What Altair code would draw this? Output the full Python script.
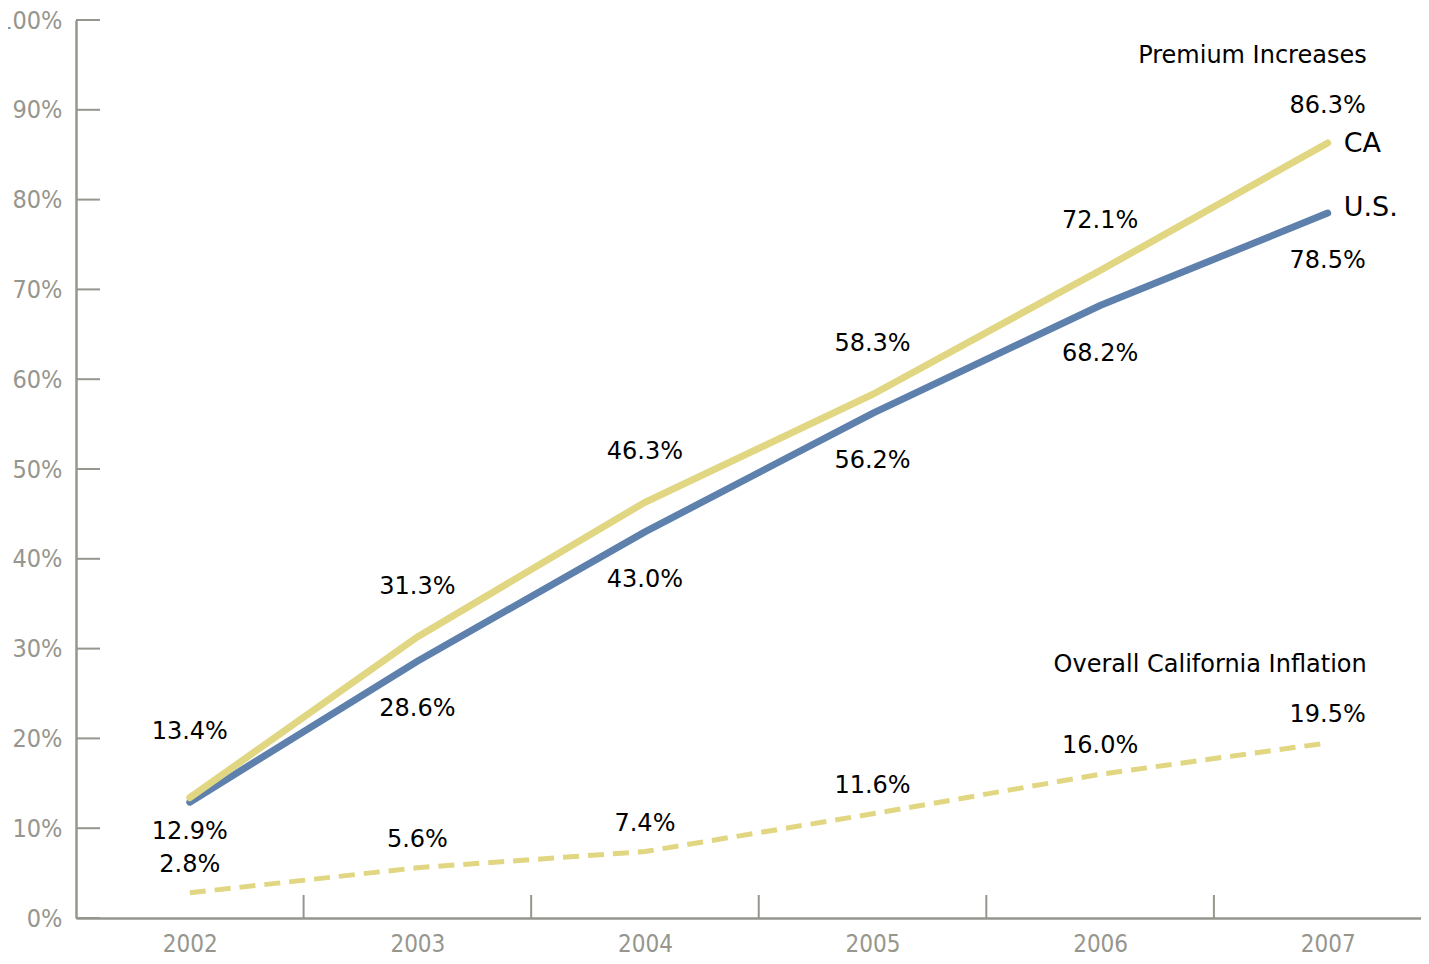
import altair as alt
import pandas as pd

years = [2002, 2003, 2004, 2005, 2006, 2007]
ca = [13.4, 31.3, 46.3, 58.3, 72.1, 86.3]
us = [12.9, 28.6, 43.0, 56.2, 68.2, 78.5]
infl = [2.8, 5.6, 7.4, 11.6, 16.0, 19.5]
y_ticks = [0, 10, 20, 30, 40, 50, 60, 70, 80, 90, 100]
x_bounds = [2002.5, 2003.5, 2004.5, 2005.5, 2006.5]

YELLOW = "#e1d682"
BLUE = "#5d80ad"
GRAY = "#96968e"
LABEL_FONT = "DejaVu Sans"
AXIS_FONT = "DejaVu Sans Condensed"

df = pd.DataFrame({"year": years, "CA": ca, "US": us, "Infl": infl})
df["CA_l"] = df["CA"].map(lambda v: f"{v:.1f}%")
df["US_l"] = df["US"].map(lambda v: f"{v:.1f}%")
df["Infl_l"] = df["Infl"].map(lambda v: f"{v:.1f}%")

W, H = 1345, 898
xs = alt.Scale(domain=[2001.5, 2007.41], nice=False, zero=False)
ys = alt.Scale(domain=[0, 100], nice=False)

X = alt.X("year:Q", scale=xs, axis=alt.Axis(
    values=years, format="d", ticks=False, grid=False, title=None,
    domainColor=GRAY, domainWidth=2.5, labelColor=GRAY, labelFont=AXIS_FONT,
    labelFontSize=24, labelPadding=14))

base = alt.Chart(df)

y_axis = alt.Axis(values=y_ticks, labelExpr="datum.value + '%'", ticks=False,
                  grid=False, title=None, domainColor=GRAY, domainWidth=2.5,
                  labelColor=GRAY, labelFont=AXIS_FONT, labelFontSize=25,
                  labelPadding=14)

ca_line = base.mark_line(color=YELLOW, strokeWidth=7, strokeCap="round").encode(
    x=X, y=alt.Y("CA:Q", scale=ys, axis=y_axis))
us_line = base.mark_line(color=BLUE, strokeWidth=7, strokeCap="round").encode(
    x=alt.X("year:Q", scale=xs), y=alt.Y("US:Q", scale=ys))
inf_line = base.mark_line(color=YELLOW, strokeWidth=5, strokeDash=[16, 9]).encode(
    x=alt.X("year:Q", scale=xs), y=alt.Y("Infl:Q", scale=ys))

tick_df = pd.DataFrame({"v": y_ticks})
ytick = alt.Chart(tick_df).mark_rule(color=GRAY, strokeWidth=2).encode(
    y=alt.Y("v:Q", scale=ys), x=alt.value(0), x2=alt.value(24))
xb_df = pd.DataFrame({"b": x_bounds})
xtick = alt.Chart(xb_df).mark_rule(color=GRAY, strokeWidth=2).encode(
    x=alt.X("b:Q", scale=xs), y=alt.value(H), y2=alt.value(H - 23))

def txt(field, label, dy, cond=None):
    c = base
    if cond is not None:
        c = c.transform_filter(cond)
    return c.mark_text(font=LABEL_FONT, fontSize=24, color="black", dy=dy).encode(
        x=alt.X("year:Q", scale=xs), y=alt.Y(f"{field}:Q", scale=ys), text=f"{label}:N")

ca_t1 = txt("CA", "CA_l", -66, "datum.year == 2002")
ca_t2 = txt("CA", "CA_l", -50, "datum.year > 2002 && datum.year < 2007")
ca_t3 = txt("CA", "CA_l", -37, "datum.year == 2007")
us_t1 = txt("US", "US_l", 30, "datum.year == 2002")
us_t2 = txt("US", "US_l", 48, "datum.year > 2002")
inf_t = txt("Infl", "Infl_l", -28)

last = "datum.year == 2007"
ca_name = base.transform_filter(last).mark_text(
    font=LABEL_FONT, fontSize=27, color="black", align="left", dx=16, dy=1).encode(
    x=alt.X("year:Q", scale=xs), y=alt.Y("CA:Q", scale=ys), text=alt.value("CA"))
us_name = base.transform_filter(last).mark_text(
    font=LABEL_FONT, fontSize=27, color="black", align="left", dx=16, dy=-5).encode(
    x=alt.X("year:Q", scale=xs), y=alt.Y("US:Q", scale=ys), text=alt.value("U.S."))
prem = base.transform_filter(last).mark_text(
    font=LABEL_FONT, fontSize=24, color="black", align="right", dx=39, dy=-87).encode(
    x=alt.X("year:Q", scale=xs), y=alt.Y("CA:Q", scale=ys), text=alt.value("Premium Increases"))
overall = base.transform_filter(last).mark_text(
    font=LABEL_FONT, fontSize=24, color="black", align="right", dx=39, dy=-78).encode(
    x=alt.X("year:Q", scale=xs), y=alt.Y("Infl:Q", scale=ys), text=alt.value("Overall California Inflation"))

chart = alt.layer(
    ytick, xtick, inf_line, us_line, ca_line,
    ca_t1, ca_t2, ca_t3, us_t1, us_t2, inf_t, ca_name, us_name, prem, overall
).properties(
    width=W, height=H,
    autosize=alt.AutoSizeParams(type="none"),
    padding={"left": 68, "top": 12, "right": 0, "bottom": 38},
).configure(background="white").configure_view(stroke=None)

chart.save("out.html", embed_options={"renderer": "svg", "actions": False})
